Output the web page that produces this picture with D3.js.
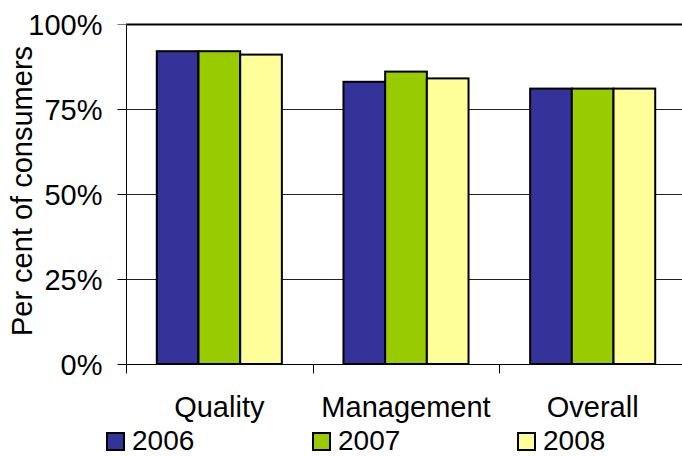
<!DOCTYPE html>
<html>
<head>
<meta charset="utf-8">
<script src="https://cdn.jsdelivr.net/npm/d3@7"></script>
<style>
  html, body { margin: 0; padding: 0; background: #fff; }
  svg { display: block; font-family: "Liberation Sans", Arial, sans-serif; }
</style>
</head>
<body>
<svg id="chart" width="682" height="456"></svg>
<script>
// Survey categories and yearly results (per cent of consumers)
const categories = ["Quality", "Management", "Overall"];
const years = ["2006", "2007", "2008"];
const values2006 = [92, 83, 81];
const values2007 = [92, 86, 81];
const values2008 = [91, 84, 81];
const yTicks = [0, 25, 50, 75, 100];
const colors = ["#333399", "#99CC00", "#FFFF99"];

const series = [values2006, values2007, values2008];
const FONT = 29;

const svg = d3.select("#chart");
const margin = { left: 126, top: 24, bottom: 92 };
const plotW = 560;
const plotH = 456 - margin.top - margin.bottom;

const x = d3.scaleBand().domain(categories).range([margin.left, margin.left + plotW]);
const groupFrac = 0.67;
const inner = d3.scaleBand().domain(years).range([0, x.bandwidth() * groupFrac]);
const y = d3.scaleLinear().domain([0, 100]).range([margin.top + plotH, margin.top]);

// horizontal gridlines
svg.append("g").selectAll("line")
  .data(yTicks.filter(t => t > 0 && t < 100))
  .join("line")
  .attr("x1", margin.left).attr("x2", margin.left + plotW)
  .attr("y1", d => Math.round(y(d)) + 0.5).attr("y2", d => Math.round(y(d)) + 0.5)
  .attr("stroke", "#222").attr("stroke-width", 1);

// top border of the plot area
svg.append("line")
  .attr("x1", margin.left).attr("x2", margin.left + plotW)
  .attr("y1", Math.round(y(100)) + 0.5).attr("y2", Math.round(y(100)) + 0.5)
  .attr("stroke", "#000").attr("stroke-width", 2);

// bars
const groups = svg.append("g").selectAll("g")
  .data(categories)
  .join("g")
  .attr("transform", d => `translate(${x(d) + x.bandwidth() * (1 - groupFrac) / 2},0)`);

groups.selectAll("rect")
  .data((c, i) => years.map((yr, k) => ({ yr, k, v: series[k][i] })))
  .join("rect")
  .attr("x", d => inner(d.yr))
  .attr("width", inner.bandwidth())
  .attr("y", d => y(d.v))
  .attr("height", d => y(0) - y(d.v))
  .attr("fill", d => colors[d.k])
  .attr("stroke", "#000")
  .attr("stroke-width", 2);

// y axis
const yAxis = d3.axisLeft(y).tickValues(yTicks).tickSize(9).tickFormat(d => d + "%");
const gy = svg.append("g").attr("transform", `translate(${margin.left + 0.5},0)`).call(yAxis);
gy.attr("font-family", null).attr("font-size", null);
gy.select(".domain").attr("stroke", "#000").attr("d", `M0,${y(100)}V${y(0)}`);
gy.selectAll(".tick line").attr("stroke", d => d === 100 ? "#777" : "#000");
gy.selectAll(".tick text")
  .attr("x", -24)
  .attr("dy", "0.36em")
  .attr("font-size", FONT)
  .attr("fill", "#000");

// x axis with ticks at category boundaries
const baseY = Math.round(y(0)) + 0.5;
svg.append("line")
  .attr("x1", margin.left).attr("x2", margin.left + plotW)
  .attr("y1", baseY).attr("y2", baseY)
  .attr("stroke", "#000");
svg.append("g").selectAll("line")
  .data(categories)
  .join("line")
  .attr("x1", d => Math.round(x(d)) + 0.5).attr("x2", d => Math.round(x(d)) + 0.5)
  .attr("y1", baseY).attr("y2", baseY + 9)
  .attr("stroke", "#000");

svg.append("g").selectAll("text")
  .data(categories)
  .join("text")
  .attr("x", d => x(d) + x.bandwidth() / 2)
  .attr("y", 417)
  .attr("text-anchor", "middle")
  .attr("font-size", FONT)
  .text(d => d);

// y axis title
svg.append("text")
  .attr("transform", `translate(32,${(y(0) + y(100)) / 2 - 3}) rotate(-90)`)
  .attr("text-anchor", "middle")
  .attr("font-size", FONT)
  .text("Per cent of consumers");

// legend
const legendX = [106, 312, 517];
const legend = svg.append("g").selectAll("g")
  .data(years)
  .join("g")
  .attr("transform", (d, i) => `translate(${legendX[i]},0)`);
legend.append("rect")
  .attr("x", 1).attr("y", 433).attr("width", 17).attr("height", 17)
  .attr("fill", (d, i) => colors[i])
  .attr("stroke", "#000").attr("stroke-width", 2);
legend.append("text")
  .attr("x", 26).attr("y", 450)
  .attr("font-size", 28)
  .text(d => d);
</script>
</body>
</html>
